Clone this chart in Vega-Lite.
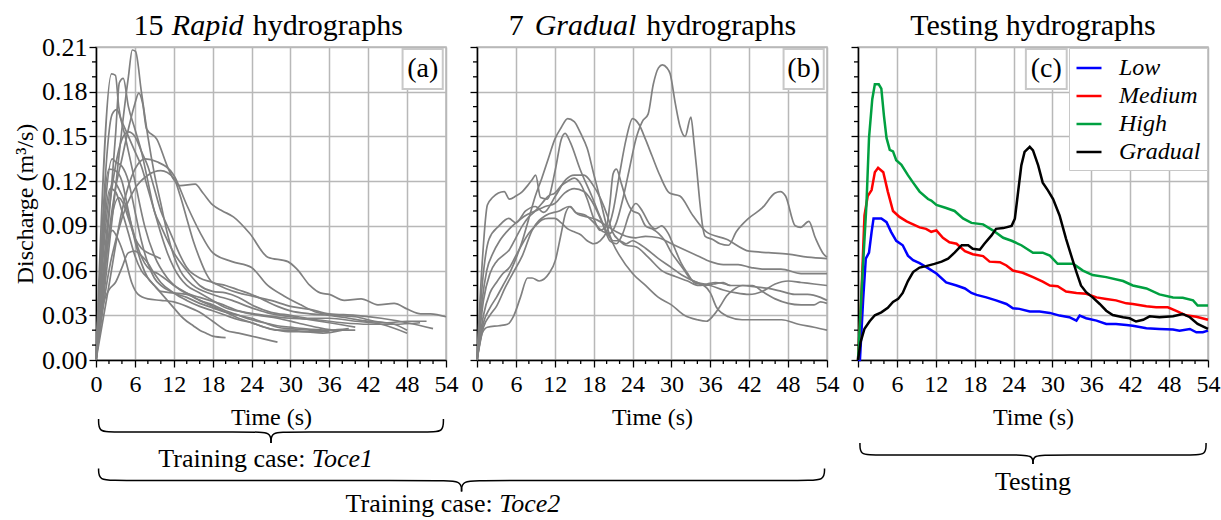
{
  "$schema": "https://vega.github.io/schema/vega-lite/v6.json",
  "padding": {"left": 12, "top": 10, "right": 0, "bottom": 0},
  "bounds": "flush",
  "spacing": 31,
  "config": {
    "font": "Liberation Serif",
    "view": {"stroke": "#b8b8b8", "strokeWidth": 1.5},
    "axis": {
      "domainColor": "#000000", "domainWidth": 1.5,
      "tickColor": "#000000", "tickWidth": 1.3, "tickSize": 7, "tickCount": 20,
      "gridColor": "#b8b8b8", "gridWidth": 1.5,
      "labelFont": "Liberation Serif", "labelFontSize": 24, "labelColor": "#000000",
      "labelFlush": false, "labelOverlap": false,
      "titleFont": "Liberation Serif", "titleFontSize": 24, "titleFontWeight": "normal", "titleColor": "#000000"
    },
    "axisY": {"labelFontSize": 26, "labelPadding": 2, "titlePadding": 4},
    "axisX": {"labelPadding": 5, "titlePadding": 9}
  },
  "resolve": {"scale": {"color": "independent"}, "legend": {"color": "independent"}},
  "datasets": {
    "xminor": [{"t":2},{"t":4},{"t":8},{"t":10},{"t":14},{"t":16},{"t":20},{"t":22},{"t":26},{"t":28},{"t":32},{"t":34},{"t":38},{"t":40},{"t":44},{"t":46},{"t":50},{"t":52}],
    "yminor": [{"q":0.01},{"q":0.02},{"q":0.04},{"q":0.05},{"q":0.07},{"q":0.08},{"q":0.1},{"q":0.11},{"q":0.13},{"q":0.14},{"q":0.16},{"q":0.17},{"q":0.19},{"q":0.2}],
    "rapid": [
      {"s":"a1","t":0,"q":0},{"s":"a1","t":1,"q":0.04},{"s":"a1","t":2,"q":0.085},{"s":"a1","t":3,"q":0.115},{"s":"a1","t":4,"q":0.135},{"s":"a1","t":5,"q":0.155},{"s":"a1","t":6,"q":0.172},{"s":"a1","t":6.6,"q":0.179},{"s":"a1","t":7.2,"q":0.172},{"s":"a1","t":7.8,"q":0.155},{"s":"a1","t":9.4,"q":0.148},{"s":"a1","t":11,"q":0.13},{"s":"a1","t":12,"q":0.121},{"s":"a1","t":13,"q":0.117},{"s":"a1","t":15.3,"q":0.118},{"s":"a1","t":16.5,"q":0.112},{"s":"a1","t":18,"q":0.104},{"s":"a1","t":19.5,"q":0.1},{"s":"a1","t":21.2,"q":0.096},{"s":"a1","t":23.7,"q":0.085},{"s":"a1","t":26.5,"q":0.069},{"s":"a1","t":29.6,"q":0.066},{"s":"a1","t":31,"q":0.061},{"s":"a1","t":33,"q":0.05},{"s":"a1","t":34.6,"q":0.045},{"s":"a1","t":36,"q":0.044},{"s":"a1","t":38.3,"q":0.04},{"s":"a1","t":40.9,"q":0.041},{"s":"a1","t":43.5,"q":0.037},{"s":"a1","t":46,"q":0.038},{"s":"a1","t":48.1,"q":0.034},{"s":"a1","t":50.1,"q":0.031},{"s":"a1","t":51.6,"q":0.031},{"s":"a1","t":54,"q":0.029},
      {"s":"a2","t":0,"q":0},{"s":"a2","t":1,"q":0.035},{"s":"a2","t":2,"q":0.075},{"s":"a2","t":3,"q":0.115},{"s":"a2","t":4,"q":0.155},{"s":"a2","t":5,"q":0.19},{"s":"a2","t":5.6,"q":0.208},{"s":"a2","t":6.1,"q":0.207},{"s":"a2","t":7,"q":0.18},{"s":"a2","t":8,"q":0.15},{"s":"a2","t":9,"q":0.125},{"s":"a2","t":10,"q":0.105},{"s":"a2","t":11,"q":0.085},{"s":"a2","t":12,"q":0.07},{"s":"a2","t":13,"q":0.06},{"s":"a2","t":15,"q":0.05},{"s":"a2","t":18,"q":0.044},{"s":"a2","t":21,"q":0.04},{"s":"a2","t":24,"q":0.035},{"s":"a2","t":27,"q":0.031},{"s":"a2","t":30,"q":0.029},{"s":"a2","t":33,"q":0.027},{"s":"a2","t":36,"q":0.025},{"s":"a2","t":40,"q":0.022},
      {"s":"a3","t":0,"q":0},{"s":"a3","t":2.4,"q":0.192},{"s":"a3","t":3,"q":0.191},{"s":"a3","t":3.5,"q":0.17},{"s":"a3","t":4.5,"q":0.15},{"s":"a3","t":6,"q":0.12},{"s":"a3","t":7.5,"q":0.09},{"s":"a3","t":9,"q":0.07},{"s":"a3","t":11,"q":0.055},{"s":"a3","t":13,"q":0.047},{"s":"a3","t":16,"q":0.042},{"s":"a3","t":19,"q":0.038},{"s":"a3","t":22,"q":0.033},{"s":"a3","t":25,"q":0.03},{"s":"a3","t":28,"q":0.028},{"s":"a3","t":31,"q":0.025},{"s":"a3","t":34,"q":0.022},{"s":"a3","t":37,"q":0.02},{"s":"a3","t":40,"q":0.02},
      {"s":"a4","t":0,"q":0},{"s":"a4","t":3,"q":0.15},{"s":"a4","t":3.6,"q":0.186},{"s":"a4","t":4.2,"q":0.189},{"s":"a4","t":5,"q":0.17},{"s":"a4","t":6,"q":0.155},{"s":"a4","t":7,"q":0.14},{"s":"a4","t":8,"q":0.12},{"s":"a4","t":9,"q":0.1},{"s":"a4","t":10,"q":0.09},{"s":"a4","t":12,"q":0.072},{"s":"a4","t":14,"q":0.06},{"s":"a4","t":16,"q":0.05},{"s":"a4","t":18,"q":0.046},{"s":"a4","t":20,"q":0.045},{"s":"a4","t":22,"q":0.042},{"s":"a4","t":24,"q":0.037},{"s":"a4","t":27,"q":0.032},{"s":"a4","t":30,"q":0.03},{"s":"a4","t":33,"q":0.028},{"s":"a4","t":36,"q":0.028},{"s":"a4","t":40,"q":0.026},{"s":"a4","t":44,"q":0.024},{"s":"a4","t":48,"q":0.018},
      {"s":"a5","t":0,"q":0},{"s":"a5","t":2.5,"q":0.165},{"s":"a5","t":3.2,"q":0.168},{"s":"a5","t":4,"q":0.16},{"s":"a5","t":5,"q":0.15},{"s":"a5","t":6,"q":0.14},{"s":"a5","t":7,"q":0.13},{"s":"a5","t":8,"q":0.115},{"s":"a5","t":9,"q":0.1},{"s":"a5","t":10,"q":0.085},{"s":"a5","t":11,"q":0.072},{"s":"a5","t":12,"q":0.062},{"s":"a5","t":14,"q":0.05},{"s":"a5","t":16,"q":0.045},{"s":"a5","t":18,"q":0.04},{"s":"a5","t":20,"q":0.035},{"s":"a5","t":23,"q":0.032},{"s":"a5","t":26,"q":0.03},{"s":"a5","t":30,"q":0.028},{"s":"a5","t":34,"q":0.027},{"s":"a5","t":38,"q":0.025},{"s":"a5","t":42,"q":0.024},{"s":"a5","t":46,"q":0.024},{"s":"a5","t":50,"q":0.025},
      {"s":"a6","t":0,"q":0},{"s":"a6","t":2,"q":0.1},{"s":"a6","t":3,"q":0.13},{"s":"a6","t":4,"q":0.148},{"s":"a6","t":5,"q":0.153},{"s":"a6","t":6,"q":0.15},{"s":"a6","t":7,"q":0.14},{"s":"a6","t":8,"q":0.13},{"s":"a6","t":9,"q":0.115},{"s":"a6","t":10,"q":0.1},{"s":"a6","t":11,"q":0.09},{"s":"a6","t":12,"q":0.08},{"s":"a6","t":13,"q":0.07},{"s":"a6","t":14,"q":0.062},{"s":"a6","t":16,"q":0.055},{"s":"a6","t":18,"q":0.052},{"s":"a6","t":20,"q":0.048},{"s":"a6","t":22,"q":0.045},{"s":"a6","t":24,"q":0.043},{"s":"a6","t":27,"q":0.04},{"s":"a6","t":30,"q":0.036},{"s":"a6","t":33,"q":0.034},{"s":"a6","t":36,"q":0.031},{"s":"a6","t":40,"q":0.03},{"s":"a6","t":44,"q":0.028},{"s":"a6","t":48,"q":0.025},{"s":"a6","t":52,"q":0.021},
      {"s":"a7","t":0,"q":0},{"s":"a7","t":2,"q":0.05},{"s":"a7","t":4,"q":0.1},{"s":"a7","t":6,"q":0.128},{"s":"a7","t":7.6,"q":0.135},{"s":"a7","t":9.4,"q":0.133},{"s":"a7","t":12,"q":0.124},{"s":"a7","t":14,"q":0.104},{"s":"a7","t":16,"q":0.086},{"s":"a7","t":18,"q":0.072},{"s":"a7","t":21,"q":0.066},{"s":"a7","t":24,"q":0.062},{"s":"a7","t":26.5,"q":0.05},{"s":"a7","t":29,"q":0.043},{"s":"a7","t":31.6,"q":0.037},{"s":"a7","t":34,"q":0.032},{"s":"a7","t":37,"q":0.03},{"s":"a7","t":40,"q":0.029},{"s":"a7","t":43,"q":0.026},{"s":"a7","t":46,"q":0.024},{"s":"a7","t":48,"q":0.02},
      {"s":"a8","t":0,"q":0},{"s":"a8","t":2,"q":0.06},{"s":"a8","t":4,"q":0.095},{"s":"a8","t":6,"q":0.115},{"s":"a8","t":8,"q":0.124},{"s":"a8","t":10,"q":0.127},{"s":"a8","t":12,"q":0.122},{"s":"a8","t":13,"q":0.11},{"s":"a8","t":14,"q":0.095},{"s":"a8","t":15,"q":0.08},{"s":"a8","t":16,"q":0.068},{"s":"a8","t":17,"q":0.058},{"s":"a8","t":18,"q":0.052},{"s":"a8","t":20,"q":0.05},{"s":"a8","t":22,"q":0.047},{"s":"a8","t":24,"q":0.044},{"s":"a8","t":26,"q":0.04},{"s":"a8","t":28,"q":0.036},{"s":"a8","t":30,"q":0.033},{"s":"a8","t":33,"q":0.031},{"s":"a8","t":36,"q":0.03},{"s":"a8","t":39,"q":0.028},{"s":"a8","t":42,"q":0.026},{"s":"a8","t":45,"q":0.025},{"s":"a8","t":48,"q":0.026},{"s":"a8","t":51,"q":0.026},
      {"s":"a9","t":0,"q":0},{"s":"a9","t":2.5,"q":0.135},{"s":"a9","t":3,"q":0.133},{"s":"a9","t":4,"q":0.13},{"s":"a9","t":5,"q":0.12},{"s":"a9","t":6,"q":0.1},{"s":"a9","t":7,"q":0.08},{"s":"a9","t":8,"q":0.065},{"s":"a9","t":9,"q":0.055},{"s":"a9","t":10,"q":0.05},{"s":"a9","t":12,"q":0.045},{"s":"a9","t":14,"q":0.042},{"s":"a9","t":16,"q":0.038},{"s":"a9","t":18,"q":0.035},{"s":"a9","t":20,"q":0.032},{"s":"a9","t":22,"q":0.03},{"s":"a9","t":24,"q":0.028},{"s":"a9","t":26,"q":0.025},{"s":"a9","t":28,"q":0.022},{"s":"a9","t":30,"q":0.021},{"s":"a9","t":33,"q":0.02},{"s":"a9","t":36,"q":0.019},
      {"s":"a10","t":0,"q":0},{"s":"a10","t":2,"q":0.128},{"s":"a10","t":3,"q":0.127},{"s":"a10","t":4,"q":0.12},{"s":"a10","t":5,"q":0.1},{"s":"a10","t":6,"q":0.08},{"s":"a10","t":7,"q":0.065},{"s":"a10","t":8,"q":0.055},{"s":"a10","t":9,"q":0.05},{"s":"a10","t":10,"q":0.046},{"s":"a10","t":12,"q":0.045},{"s":"a10","t":14,"q":0.044},{"s":"a10","t":16,"q":0.04},{"s":"a10","t":18,"q":0.036},{"s":"a10","t":20,"q":0.032},{"s":"a10","t":22,"q":0.028},{"s":"a10","t":24,"q":0.025},{"s":"a10","t":26,"q":0.022},{"s":"a10","t":28,"q":0.02},{"s":"a10","t":30,"q":0.02},{"s":"a10","t":32,"q":0.019},{"s":"a10","t":35,"q":0.019},
      {"s":"a11","t":0,"q":0},{"s":"a11","t":2.7,"q":0.12},{"s":"a11","t":3.5,"q":0.115},{"s":"a11","t":4.5,"q":0.105},{"s":"a11","t":5.5,"q":0.09},{"s":"a11","t":6.5,"q":0.075},{"s":"a11","t":7.5,"q":0.065},{"s":"a11","t":8.5,"q":0.06},{"s":"a11","t":9.5,"q":0.058},{"s":"a11","t":10.5,"q":0.055},{"s":"a11","t":12,"q":0.05},{"s":"a11","t":14,"q":0.045},{"s":"a11","t":16,"q":0.04},{"s":"a11","t":18,"q":0.037},{"s":"a11","t":20,"q":0.033},{"s":"a11","t":22,"q":0.03},{"s":"a11","t":24,"q":0.027},{"s":"a11","t":26,"q":0.025},{"s":"a11","t":28,"q":0.023},{"s":"a11","t":30,"q":0.022},{"s":"a11","t":32,"q":0.021},{"s":"a11","t":36,"q":0.02},{"s":"a11","t":39,"q":0.021},
      {"s":"a12","t":0,"q":0},{"s":"a12","t":2.2,"q":0.115},{"s":"a12","t":3,"q":0.113},{"s":"a12","t":4,"q":0.1},{"s":"a12","t":5,"q":0.085},{"s":"a12","t":6,"q":0.07},{"s":"a12","t":7,"q":0.06},{"s":"a12","t":8,"q":0.055},{"s":"a12","t":9,"q":0.05},{"s":"a12","t":10,"q":0.045},{"s":"a12","t":11,"q":0.04},{"s":"a12","t":12,"q":0.035},{"s":"a12","t":13,"q":0.03},{"s":"a12","t":14,"q":0.026},{"s":"a12","t":15,"q":0.023},{"s":"a12","t":16,"q":0.02},{"s":"a12","t":17,"q":0.018},{"s":"a12","t":18,"q":0.016},{"s":"a12","t":20,"q":0.015},
      {"s":"a13","t":0,"q":0},{"s":"a13","t":3.5,"q":0.109},{"s":"a13","t":4.2,"q":0.105},{"s":"a13","t":5,"q":0.095},{"s":"a13","t":6,"q":0.082},{"s":"a13","t":7,"q":0.075},{"s":"a13","t":8,"q":0.072},{"s":"a13","t":9,"q":0.07},{"s":"a13","t":10,"q":0.068},
      {"s":"a14","t":0,"q":0},{"s":"a14","t":2.5,"q":0.087},{"s":"a14","t":3.5,"q":0.08},{"s":"a14","t":4.5,"q":0.068},{"s":"a14","t":5.5,"q":0.052},{"s":"a14","t":6.5,"q":0.044},{"s":"a14","t":8,"q":0.041},{"s":"a14","t":10,"q":0.04},{"s":"a14","t":12,"q":0.039},{"s":"a14","t":14,"q":0.036},{"s":"a14","t":16,"q":0.032},{"s":"a14","t":18,"q":0.026},{"s":"a14","t":20,"q":0.02},{"s":"a14","t":22,"q":0.018},{"s":"a14","t":24,"q":0.016},{"s":"a14","t":26,"q":0.014},{"s":"a14","t":28,"q":0.012},
      {"s":"a15","t":0,"q":0},{"s":"a15","t":1,"q":0.035},{"s":"a15","t":2,"q":0.047},{"s":"a15","t":3,"q":0.052},{"s":"a15","t":4,"q":0.062},{"s":"a15","t":5,"q":0.072},{"s":"a15","t":6,"q":0.073},{"s":"a15","t":7,"q":0.07},{"s":"a15","t":8,"q":0.065},{"s":"a15","t":9,"q":0.058},{"s":"a15","t":10,"q":0.052},{"s":"a15","t":12,"q":0.045},{"s":"a15","t":14,"q":0.04},{"s":"a15","t":16,"q":0.036},{"s":"a15","t":18,"q":0.033},{"s":"a15","t":20,"q":0.03},{"s":"a15","t":22,"q":0.027},{"s":"a15","t":24,"q":0.025},{"s":"a15","t":26,"q":0.022},{"s":"a15","t":28,"q":0.02},{"s":"a15","t":30,"q":0.019},{"s":"a15","t":32,"q":0.019},{"s":"a15","t":35,"q":0.018},{"s":"a15","t":38,"q":0.02}
    ],
    "gradual": [
      {"s":"b1","t":0,"q":0},{"s":"b1","t":1,"q":0.025},{"s":"b1","t":2,"q":0.035},{"s":"b1","t":3,"q":0.042},{"s":"b1","t":4,"q":0.05},{"s":"b1","t":5,"q":0.058},{"s":"b1","t":6,"q":0.068},{"s":"b1","t":7,"q":0.08},{"s":"b1","t":8,"q":0.095},{"s":"b1","t":9,"q":0.11},{"s":"b1","t":10,"q":0.122},{"s":"b1","t":11,"q":0.135},{"s":"b1","t":12,"q":0.148},{"s":"b1","t":13,"q":0.156},{"s":"b1","t":14,"q":0.162},{"s":"b1","t":15,"q":0.16},{"s":"b1","t":16,"q":0.152},{"s":"b1","t":17,"q":0.142},{"s":"b1","t":18,"q":0.125},{"s":"b1","t":19,"q":0.108},{"s":"b1","t":20,"q":0.09},{"s":"b1","t":21,"q":0.078},{"s":"b1","t":22,"q":0.07},{"s":"b1","t":24,"q":0.058},{"s":"b1","t":26,"q":0.05},{"s":"b1","t":28,"q":0.042},{"s":"b1","t":30,"q":0.037},{"s":"b1","t":32,"q":0.03},{"s":"b1","t":34,"q":0.027},{"s":"b1","t":35.4,"q":0.026},{"s":"b1","t":36.5,"q":0.03},{"s":"b1","t":37.5,"q":0.036},{"s":"b1","t":38.5,"q":0.043},{"s":"b1","t":39.5,"q":0.047},{"s":"b1","t":41,"q":0.05},{"s":"b1","t":42.5,"q":0.05},{"s":"b1","t":44,"q":0.046},{"s":"b1","t":46,"q":0.041},{"s":"b1","t":48,"q":0.038},{"s":"b1","t":50,"q":0.037},{"s":"b1","t":52,"q":0.037},{"s":"b1","t":53,"q":0.039},{"s":"b1","t":54,"q":0.038},
      {"s":"b2","t":0,"q":0},{"s":"b2","t":0.8,"q":0.018},{"s":"b2","t":1.6,"q":0.022},{"s":"b2","t":3.4,"q":0.023},{"s":"b2","t":4.7,"q":0.024},{"s":"b2","t":5.7,"q":0.03},{"s":"b2","t":6.7,"q":0.042},{"s":"b2","t":7.8,"q":0.055},{"s":"b2","t":8.5,"q":0.055},{"s":"b2","t":9.6,"q":0.053},{"s":"b2","t":11.1,"q":0.058},{"s":"b2","t":12.1,"q":0.067},{"s":"b2","t":12.9,"q":0.083},{"s":"b2","t":13.7,"q":0.099},{"s":"b2","t":14.4,"q":0.103},{"s":"b2","t":15.2,"q":0.099},{"s":"b2","t":16.8,"q":0.097},{"s":"b2","t":18.3,"q":0.091},{"s":"b2","t":19.5,"q":0.086},{"s":"b2","t":20.5,"q":0.085},{"s":"b2","t":21.5,"q":0.092},{"s":"b2","t":22.5,"q":0.108},{"s":"b2","t":23.5,"q":0.128},{"s":"b2","t":24.5,"q":0.148},{"s":"b2","t":25.5,"q":0.16},{"s":"b2","t":26.4,"q":0.165},{"s":"b2","t":27.2,"q":0.185},{"s":"b2","t":28,"q":0.196},{"s":"b2","t":28.6,"q":0.198},{"s":"b2","t":29.3,"q":0.196},{"s":"b2","t":29.8,"q":0.192},{"s":"b2","t":30.6,"q":0.172},{"s":"b2","t":31.3,"q":0.157},{"s":"b2","t":32.1,"q":0.15},{"s":"b2","t":33,"q":0.163},{"s":"b2","t":33.5,"q":0.145},{"s":"b2","t":33.9,"q":0.128},{"s":"b2","t":34.4,"q":0.105},{"s":"b2","t":34.8,"q":0.09},{"s":"b2","t":35.2,"q":0.083},{"s":"b2","t":36.3,"q":0.081},{"s":"b2","t":37.5,"q":0.078},{"s":"b2","t":38.8,"q":0.077},{"s":"b2","t":40,"q":0.086},{"s":"b2","t":41.9,"q":0.095},{"s":"b2","t":44,"q":0.102},{"s":"b2","t":46,"q":0.112},{"s":"b2","t":46.8,"q":0.113},{"s":"b2","t":47.6,"q":0.11},{"s":"b2","t":49.1,"q":0.09},{"s":"b2","t":49.9,"q":0.089},{"s":"b2","t":51.2,"q":0.093},{"s":"b2","t":52.2,"q":0.082},{"s":"b2","t":53.5,"q":0.071},{"s":"b2","t":54,"q":0.069},
      {"s":"b3","t":0,"q":0},{"s":"b3","t":1,"q":0.03},{"s":"b3","t":2,"q":0.045},{"s":"b3","t":3,"q":0.052},{"s":"b3","t":4,"q":0.058},{"s":"b3","t":5,"q":0.062},{"s":"b3","t":6,"q":0.07},{"s":"b3","t":7,"q":0.078},{"s":"b3","t":8,"q":0.085},{"s":"b3","t":9,"q":0.09},{"s":"b3","t":10,"q":0.094},{"s":"b3","t":11,"q":0.095},{"s":"b3","t":12,"q":0.095},{"s":"b3","t":13,"q":0.092},{"s":"b3","t":14,"q":0.088},{"s":"b3","t":15,"q":0.086},{"s":"b3","t":16,"q":0.084},{"s":"b3","t":17,"q":0.08},{"s":"b3","t":18,"q":0.078},{"s":"b3","t":19,"q":0.08},{"s":"b3","t":20,"q":0.086},{"s":"b3","t":21,"q":0.1},{"s":"b3","t":22,"q":0.125},{"s":"b3","t":23,"q":0.148},{"s":"b3","t":24,"q":0.162},{"s":"b3","t":25,"q":0.158},{"s":"b3","t":26,"q":0.148},{"s":"b3","t":27,"q":0.137},{"s":"b3","t":28.2,"q":0.124},{"s":"b3","t":29.7,"q":0.112},{"s":"b3","t":31.3,"q":0.11},{"s":"b3","t":33.3,"q":0.097},{"s":"b3","t":35.4,"q":0.086},{"s":"b3","t":38.5,"q":0.081},{"s":"b3","t":42,"q":0.073},{"s":"b3","t":45,"q":0.072},{"s":"b3","t":48,"q":0.071},{"s":"b3","t":51,"q":0.069},{"s":"b3","t":54,"q":0.068},
      {"s":"b4","t":0,"q":0},{"s":"b4","t":0.8,"q":0.065},{"s":"b4","t":1.6,"q":0.104},{"s":"b4","t":2.4,"q":0.109},{"s":"b4","t":3.3,"q":0.112},{"s":"b4","t":4.2,"q":0.113},{"s":"b4","t":5,"q":0.108},{"s":"b4","t":6,"q":0.11},{"s":"b4","t":7,"q":0.113},{"s":"b4","t":7.8,"q":0.117},{"s":"b4","t":8.5,"q":0.121},{"s":"b4","t":9.05,"q":0.124},{"s":"b4","t":9.8,"q":0.109},{"s":"b4","t":10.85,"q":0.108},{"s":"b4","t":12.1,"q":0.128},{"s":"b4","t":13,"q":0.148},{"s":"b4","t":13.6,"q":0.152},{"s":"b4","t":14.4,"q":0.146},{"s":"b4","t":15.9,"q":0.128},{"s":"b4","t":17.7,"q":0.11},{"s":"b4","t":19,"q":0.096},{"s":"b4","t":20,"q":0.086},{"s":"b4","t":21,"q":0.08},{"s":"b4","t":22,"q":0.08},{"s":"b4","t":23,"q":0.078},{"s":"b4","t":24,"q":0.08},{"s":"b4","t":25,"q":0.078},{"s":"b4","t":26,"q":0.075},{"s":"b4","t":28,"q":0.068},{"s":"b4","t":30,"q":0.062},{"s":"b4","t":31.6,"q":0.057},{"s":"b4","t":34,"q":0.052},{"s":"b4","t":36,"q":0.05},{"s":"b4","t":38,"q":0.047},{"s":"b4","t":40,"q":0.045},{"s":"b4","t":42,"q":0.044},{"s":"b4","t":44,"q":0.046},{"s":"b4","t":46,"q":0.051},{"s":"b4","t":48,"q":0.053},{"s":"b4","t":50,"q":0.052},{"s":"b4","t":52,"q":0.051},{"s":"b4","t":54,"q":0.05},
      {"s":"b5","t":0,"q":0},{"s":"b5","t":0.8,"q":0.05},{"s":"b5","t":1.85,"q":0.081},{"s":"b5","t":3.4,"q":0.09},{"s":"b5","t":4.9,"q":0.095},{"s":"b5","t":6,"q":0.092},{"s":"b5","t":7.5,"q":0.1},{"s":"b5","t":9,"q":0.103},{"s":"b5","t":10.3,"q":0.099},{"s":"b5","t":12.1,"q":0.11},{"s":"b5","t":13.7,"q":0.121},{"s":"b5","t":15,"q":0.124},{"s":"b5","t":16.5,"q":0.124},{"s":"b5","t":17.8,"q":0.118},{"s":"b5","t":19.1,"q":0.108},{"s":"b5","t":20.1,"q":0.097},{"s":"b5","t":20.9,"q":0.086},{"s":"b5","t":22,"q":0.08},{"s":"b5","t":23,"q":0.077},{"s":"b5","t":24.5,"q":0.076},{"s":"b5","t":26.4,"q":0.069},{"s":"b5","t":28.5,"q":0.06},{"s":"b5","t":30.6,"q":0.056},{"s":"b5","t":32.5,"q":0.053},{"s":"b5","t":34.2,"q":0.05},{"s":"b5","t":35.5,"q":0.051},{"s":"b5","t":36.8,"q":0.052},{"s":"b5","t":39.1,"q":0.05},
      {"s":"b6","t":0,"q":0},{"s":"b6","t":1,"q":0.022},{"s":"b6","t":2,"q":0.03},{"s":"b6","t":3,"q":0.036},{"s":"b6","t":4.4,"q":0.049},{"s":"b6","t":5.5,"q":0.058},{"s":"b6","t":7,"q":0.07},{"s":"b6","t":8.5,"q":0.087},{"s":"b6","t":10.6,"q":0.097},{"s":"b6","t":12.7,"q":0.1},{"s":"b6","t":14.2,"q":0.103},{"s":"b6","t":15.5,"q":0.098},{"s":"b6","t":17,"q":0.096},{"s":"b6","t":18.5,"q":0.094},{"s":"b6","t":20,"q":0.09},{"s":"b6","t":21.5,"q":0.086},{"s":"b6","t":23,"q":0.083},{"s":"b6","t":24.5,"q":0.082},{"s":"b6","t":26,"q":0.083},{"s":"b6","t":28,"q":0.082},{"s":"b6","t":30,"q":0.078},{"s":"b6","t":32,"q":0.074},{"s":"b6","t":34,"q":0.07},{"s":"b6","t":36,"q":0.066},{"s":"b6","t":38,"q":0.064},{"s":"b6","t":40.3,"q":0.064},{"s":"b6","t":42.3,"q":0.062},{"s":"b6","t":44,"q":0.061},{"s":"b6","t":46.9,"q":0.061},{"s":"b6","t":50,"q":0.058},{"s":"b6","t":52,"q":0.058},{"s":"b6","t":54,"q":0.058},
      {"s":"b7","t":0,"q":0},{"s":"b7","t":0.8,"q":0.04},{"s":"b7","t":1.5,"q":0.06},{"s":"b7","t":2.5,"q":0.072},{"s":"b7","t":3.5,"q":0.08},{"s":"b7","t":5,"q":0.088},{"s":"b7","t":6,"q":0.092},{"s":"b7","t":7.5,"q":0.097},{"s":"b7","t":9,"q":0.1},{"s":"b7","t":10.5,"q":0.103},{"s":"b7","t":12,"q":0.105},{"s":"b7","t":13.5,"q":0.112},{"s":"b7","t":15,"q":0.115},{"s":"b7","t":16.5,"q":0.113},{"s":"b7","t":17.5,"q":0.108},{"s":"b7","t":18.5,"q":0.1},{"s":"b7","t":19.5,"q":0.09},{"s":"b7","t":20.5,"q":0.08},{"s":"b7","t":21.5,"q":0.078},{"s":"b7","t":22.5,"q":0.085},{"s":"b7","t":23.5,"q":0.098},{"s":"b7","t":24.5,"q":0.105},{"s":"b7","t":25.5,"q":0.1},{"s":"b7","t":26.5,"q":0.092},{"s":"b7","t":27.5,"q":0.088},{"s":"b7","t":28.5,"q":0.09},{"s":"b7","t":29.5,"q":0.085},{"s":"b7","t":30.5,"q":0.075},{"s":"b7","t":31.5,"q":0.065},{"s":"b7","t":32.5,"q":0.058},{"s":"b7","t":33.5,"q":0.052},{"s":"b7","t":35,"q":0.05},{"s":"b7","t":36,"q":0.045},{"s":"b7","t":37,"q":0.035},{"s":"b7","t":38.8,"q":0.029},{"s":"b7","t":40.9,"q":0.027},{"s":"b7","t":44,"q":0.027},{"s":"b7","t":47,"q":0.027},{"s":"b7","t":49.6,"q":0.024},{"s":"b7","t":52,"q":0.022},{"s":"b7","t":54,"q":0.02},
      {"s":"b8","t":0,"q":0},{"s":"b8","t":1,"q":0.04},{"s":"b8","t":2,"q":0.058},{"s":"b8","t":3,"q":0.066},{"s":"b8","t":4,"q":0.07},{"s":"b8","t":5,"q":0.074},{"s":"b8","t":6,"q":0.082},{"s":"b8","t":7,"q":0.09},{"s":"b8","t":8,"q":0.096},{"s":"b8","t":9,"q":0.1},{"s":"b8","t":10,"q":0.105},{"s":"b8","t":11,"q":0.11},{"s":"b8","t":12,"q":0.112},{"s":"b8","t":13,"q":0.117},{"s":"b8","t":14,"q":0.12},{"s":"b8","t":15,"q":0.122},{"s":"b8","t":16,"q":0.118},{"s":"b8","t":17,"q":0.108},{"s":"b8","t":18,"q":0.095},{"s":"b8","t":19,"q":0.087},{"s":"b8","t":20,"q":0.09},{"s":"b8","t":20.5,"q":0.105},{"s":"b8","t":21,"q":0.125},{"s":"b8","t":21.5,"q":0.128},{"s":"b8","t":22.3,"q":0.118},{"s":"b8","t":23,"q":0.108},{"s":"b8","t":24,"q":0.1},{"s":"b8","t":25,"q":0.098},{"s":"b8","t":26,"q":0.09},{"s":"b8","t":27,"q":0.088},{"s":"b8","t":28,"q":0.085},{"s":"b8","t":29,"q":0.08},{"s":"b8","t":30,"q":0.072},{"s":"b8","t":31,"q":0.066},{"s":"b8","t":32,"q":0.06},{"s":"b8","t":33,"q":0.054},{"s":"b8","t":34,"q":0.052},{"s":"b8","t":35,"q":0.05},{"s":"b8","t":36.5,"q":0.051},{"s":"b8","t":38,"q":0.052},{"s":"b8","t":39,"q":0.05},{"s":"b8","t":41,"q":0.05},{"s":"b8","t":43,"q":0.049},{"s":"b8","t":45,"q":0.048},{"s":"b8","t":47,"q":0.046},{"s":"b8","t":49,"q":0.044},{"s":"b8","t":51,"q":0.044},{"s":"b8","t":53,"q":0.042},{"s":"b8","t":54,"q":0.04}
    ],
    "testing": [
      {"s":"Low","t":0,"q":0},{"s":"Low","t":0.3,"q":0},{"s":"Low","t":0.8,"q":0.041},{"s":"Low","t":1.2,"q":0.068},{"s":"Low","t":1.7,"q":0.072},{"s":"Low","t":2.1,"q":0.086},{"s":"Low","t":2.4,"q":0.095},{"s":"Low","t":3.6,"q":0.095},{"s":"Low","t":4.4,"q":0.0925},{"s":"Low","t":5.1,"q":0.086},{"s":"Low","t":5.9,"q":0.08},{"s":"Low","t":6.9,"q":0.077},{"s":"Low","t":7.7,"q":0.07},{"s":"Low","t":8.5,"q":0.067},{"s":"Low","t":9.5,"q":0.065},{"s":"Low","t":10.8,"q":0.0616},{"s":"Low","t":12.1,"q":0.058},{"s":"Low","t":13.6,"q":0.052},{"s":"Low","t":15.2,"q":0.05},{"s":"Low","t":16.5,"q":0.048},{"s":"Low","t":17.5,"q":0.045},{"s":"Low","t":18.3,"q":0.0437},{"s":"Low","t":19.8,"q":0.042},{"s":"Low","t":21.3,"q":0.04},{"s":"Low","t":22.9,"q":0.0376},{"s":"Low","t":23.9,"q":0.0347},{"s":"Low","t":24.9,"q":0.0343},{"s":"Low","t":26.5,"q":0.0325},{"s":"Low","t":28,"q":0.0325},{"s":"Low","t":29.6,"q":0.0316},{"s":"Low","t":31.1,"q":0.0298},{"s":"Low","t":32.6,"q":0.0287},{"s":"Low","t":33.7,"q":0.0264},{"s":"Low","t":34.2,"q":0.0298},{"s":"Low","t":35.2,"q":0.028},{"s":"Low","t":36.8,"q":0.0264},{"s":"Low","t":38.3,"q":0.0242},{"s":"Low","t":39.8,"q":0.0242},{"s":"Low","t":41.4,"q":0.0235},{"s":"Low","t":42.4,"q":0.023},{"s":"Low","t":44.5,"q":0.0213},{"s":"Low","t":46.5,"q":0.0208},{"s":"Low","t":48.6,"q":0.0204},{"s":"Low","t":49.6,"q":0.0197},{"s":"Low","t":51.2,"q":0.0208},{"s":"Low","t":52.2,"q":0.0186},{"s":"Low","t":53.2,"q":0.0186},{"s":"Low","t":54,"q":0.0197},
      {"s":"Medium","t":0,"q":0},{"s":"Medium","t":0.5,"q":0.041},{"s":"Medium","t":1,"q":0.097},{"s":"Medium","t":1.5,"q":0.11},{"s":"Medium","t":2.1,"q":0.114},{"s":"Medium","t":2.6,"q":0.126},{"s":"Medium","t":3.1,"q":0.129},{"s":"Medium","t":3.9,"q":0.126},{"s":"Medium","t":4.6,"q":0.113},{"s":"Medium","t":5.4,"q":0.1},{"s":"Medium","t":6.4,"q":0.096},{"s":"Medium","t":7.5,"q":0.093},{"s":"Medium","t":8.5,"q":0.091},{"s":"Medium","t":9.5,"q":0.089},{"s":"Medium","t":10.5,"q":0.088},{"s":"Medium","t":11.3,"q":0.086},{"s":"Medium","t":12.1,"q":0.087},{"s":"Medium","t":13.1,"q":0.082},{"s":"Medium","t":14.1,"q":0.079},{"s":"Medium","t":15.2,"q":0.078},{"s":"Medium","t":16.5,"q":0.073},{"s":"Medium","t":17.7,"q":0.071},{"s":"Medium","t":19.3,"q":0.0697},{"s":"Medium","t":20.3,"q":0.066},{"s":"Medium","t":21.9,"q":0.0656},{"s":"Medium","t":22.9,"q":0.0634},{"s":"Medium","t":23.9,"q":0.06},{"s":"Medium","t":25.4,"q":0.0585},{"s":"Medium","t":27,"q":0.0556},{"s":"Medium","t":28.5,"q":0.0526},{"s":"Medium","t":29.6,"q":0.05},{"s":"Medium","t":30.8,"q":0.0495},{"s":"Medium","t":32.1,"q":0.046},{"s":"Medium","t":33.7,"q":0.045},{"s":"Medium","t":35.2,"q":0.0444},{"s":"Medium","t":36.8,"q":0.042},{"s":"Medium","t":38.3,"q":0.041},{"s":"Medium","t":39.8,"q":0.04},{"s":"Medium","t":41.4,"q":0.038},{"s":"Medium","t":42.4,"q":0.0376},{"s":"Medium","t":44.5,"q":0.036},{"s":"Medium","t":46,"q":0.0354},{"s":"Medium","t":47.8,"q":0.0354},{"s":"Medium","t":49.1,"q":0.033},{"s":"Medium","t":50.6,"q":0.03},{"s":"Medium","t":52.2,"q":0.029},{"s":"Medium","t":54,"q":0.027},
      {"s":"High","t":0,"q":0},{"s":"High","t":0.6,"q":0.05},{"s":"High","t":1.3,"q":0.104},{"s":"High","t":1.7,"q":0.149},{"s":"High","t":2.2,"q":0.175},{"s":"High","t":2.6,"q":0.185},{"s":"High","t":3.2,"q":0.185},{"s":"High","t":3.6,"q":0.182},{"s":"High","t":4,"q":0.164},{"s":"High","t":4.4,"q":0.149},{"s":"High","t":4.9,"q":0.141},{"s":"High","t":5.4,"q":0.14},{"s":"High","t":5.9,"q":0.134},{"s":"High","t":6.7,"q":0.131},{"s":"High","t":7.7,"q":0.124},{"s":"High","t":8.5,"q":0.119},{"s":"High","t":9.5,"q":0.113},{"s":"High","t":10.8,"q":0.108},{"s":"High","t":11.3,"q":0.107},{"s":"High","t":12.1,"q":0.104},{"s":"High","t":13.6,"q":0.102},{"s":"High","t":14.9,"q":0.1},{"s":"High","t":16.2,"q":0.095},{"s":"High","t":17.5,"q":0.092},{"s":"High","t":19.3,"q":0.091},{"s":"High","t":20.8,"q":0.087},{"s":"High","t":22.4,"q":0.082},{"s":"High","t":23.7,"q":0.08},{"s":"High","t":25.2,"q":0.077},{"s":"High","t":27,"q":0.072},{"s":"High","t":28.5,"q":0.072},{"s":"High","t":29.6,"q":0.07},{"s":"High","t":30.8,"q":0.0645},{"s":"High","t":32.1,"q":0.0645},{"s":"High","t":33.2,"q":0.0645},{"s":"High","t":34.7,"q":0.06},{"s":"High","t":36.2,"q":0.057},{"s":"High","t":38.3,"q":0.0556},{"s":"High","t":40.9,"q":0.053},{"s":"High","t":42.4,"q":0.05},{"s":"High","t":44.5,"q":0.048},{"s":"High","t":46.5,"q":0.044},{"s":"High","t":48.6,"q":0.042},{"s":"High","t":50.1,"q":0.0417},{"s":"High","t":51.7,"q":0.04},{"s":"High","t":52.4,"q":0.0365},{"s":"High","t":54,"q":0.0365},
      {"s":"Gradual","t":0,"q":0},{"s":"Gradual","t":0.4,"q":0.012},{"s":"Gradual","t":1,"q":0.021},{"s":"Gradual","t":1.8,"q":0.026},{"s":"Gradual","t":2.6,"q":0.03},{"s":"Gradual","t":3.6,"q":0.032},{"s":"Gradual","t":4.6,"q":0.035},{"s":"Gradual","t":5.4,"q":0.039},{"s":"Gradual","t":6.2,"q":0.041},{"s":"Gradual","t":6.9,"q":0.045},{"s":"Gradual","t":7.7,"q":0.053},{"s":"Gradual","t":8.5,"q":0.059},{"s":"Gradual","t":9.5,"q":0.062},{"s":"Gradual","t":10.5,"q":0.063},{"s":"Gradual","t":11.8,"q":0.0645},{"s":"Gradual","t":12.9,"q":0.066},{"s":"Gradual","t":13.9,"q":0.068},{"s":"Gradual","t":14.9,"q":0.072},{"s":"Gradual","t":16,"q":0.077},{"s":"Gradual","t":17,"q":0.077},{"s":"Gradual","t":17.7,"q":0.0746},{"s":"Gradual","t":18.8,"q":0.074},{"s":"Gradual","t":19.5,"q":0.078},{"s":"Gradual","t":20.6,"q":0.0836},{"s":"Gradual","t":21.3,"q":0.088},{"s":"Gradual","t":22.4,"q":0.0885},{"s":"Gradual","t":23.7,"q":0.09},{"s":"Gradual","t":24.2,"q":0.0948},{"s":"Gradual","t":24.7,"q":0.1127},{"s":"Gradual","t":25.2,"q":0.1306},{"s":"Gradual","t":25.7,"q":0.1396},{"s":"Gradual","t":26.5,"q":0.143},{"s":"Gradual","t":27,"q":0.1407},{"s":"Gradual","t":27.8,"q":0.1306},{"s":"Gradual","t":28.5,"q":0.119},{"s":"Gradual","t":29.3,"q":0.1138},{"s":"Gradual","t":30.1,"q":0.108},{"s":"Gradual","t":31.1,"q":0.097},{"s":"Gradual","t":32.1,"q":0.0813},{"s":"Gradual","t":32.9,"q":0.07},{"s":"Gradual","t":33.7,"q":0.059},{"s":"Gradual","t":34.4,"q":0.05},{"s":"Gradual","t":35.2,"q":0.0455},{"s":"Gradual","t":36.2,"q":0.042},{"s":"Gradual","t":37.3,"q":0.0376},{"s":"Gradual","t":38.3,"q":0.0331},{"s":"Gradual","t":39.3,"q":0.0302},{"s":"Gradual","t":40.9,"q":0.0287},{"s":"Gradual","t":41.9,"q":0.028},{"s":"Gradual","t":42.9,"q":0.0258},{"s":"Gradual","t":44,"q":0.027},{"s":"Gradual","t":45,"q":0.0293},{"s":"Gradual","t":46.5,"q":0.0287},{"s":"Gradual","t":48.6,"q":0.0293},{"s":"Gradual","t":50.1,"q":0.0309},{"s":"Gradual","t":51.2,"q":0.0287},{"s":"Gradual","t":52.4,"q":0.0242},{"s":"Gradual","t":54,"q":0.0208}
    ],
    "braceTrain": [
      {"b":"T1L","i":0,"t":0.4,"q":-0.0396},{"b":"T1L","i":1,"t":0.4,"q":-0.0483},{"b":"T1L","i":2,"t":2.6,"q":-0.0483},{"b":"T1L","i":3,"t":24.2,"q":-0.0483},{"b":"T1L","i":4,"t":27,"q":-0.0483},{"b":"T1L","i":5,"t":27,"q":-0.0557},
      {"b":"T1R","i":0,"t":53.6,"q":-0.0396},{"b":"T1R","i":1,"t":53.6,"q":-0.0483},{"b":"T1R","i":2,"t":51.4,"q":-0.0483},{"b":"T1R","i":3,"t":29.8,"q":-0.0483},{"b":"T1R","i":4,"t":27,"q":-0.0483},{"b":"T1R","i":5,"t":27,"q":-0.0557},
      {"b":"T2L","i":0,"t":0.4,"q":-0.0728},{"b":"T2L","i":1,"t":0.4,"q":-0.0809},{"b":"T2L","i":2,"t":3.4,"q":-0.0809},{"b":"T2L","i":3,"t":52.9,"q":-0.0809},{"b":"T2L","i":4,"t":56.4,"q":-0.0809},{"b":"T2L","i":5,"t":56.4,"q":-0.0883},
      {"b":"T2R","i":0,"t":112.4,"q":-0.0728},{"b":"T2R","i":1,"t":112.4,"q":-0.0809},{"b":"T2R","i":2,"t":109.4,"q":-0.0809},{"b":"T2R","i":3,"t":59.9,"q":-0.0809},{"b":"T2R","i":4,"t":56.4,"q":-0.0809},{"b":"T2R","i":5,"t":56.4,"q":-0.0883}
    ],
    "braceTest": [
      {"b":"L","i":0,"t":0.3,"q":-0.0557},{"b":"L","i":1,"t":0.3,"q":-0.0637},{"b":"L","i":2,"t":2.5,"q":-0.0637},{"b":"L","i":3,"t":24.2,"q":-0.0637},{"b":"L","i":4,"t":27,"q":-0.0637},{"b":"L","i":5,"t":27,"q":-0.0698},
      {"b":"R","i":0,"t":53.7,"q":-0.0557},{"b":"R","i":1,"t":53.7,"q":-0.0637},{"b":"R","i":2,"t":51.5,"q":-0.0637},{"b":"R","i":3,"t":29.8,"q":-0.0637},{"b":"R","i":4,"t":27,"q":-0.0637},{"b":"R","i":5,"t":27,"q":-0.0698}
    ]
  },
  "hconcat": [
    {
      "width": 350, "height": 313,
      "layer": [
        {
          "data": {"name": "rapid"},
          "mark": {"type": "line", "color": "#808080", "strokeWidth": 1.7, "interpolate": "monotone"},
          "encoding": {
            "x": {"field": "t", "type": "quantitative", "scale": {"domain": [0, 54], "nice": false, "zero": false},
              "axis": {"title": "Time (s)", "format": "d", "tickCount": 20, "values": [0,6,12,18,24,30,36,42,48,54]}},
            "y": {"field": "q", "type": "quantitative", "scale": {"domain": [0, 0.21], "nice": false},
              "axis": {"title": "Discharge (m³/s)", "format": ".2f", "tickCount": 20, "values": [0,0.03,0.06,0.09,0.12,0.15,0.18,0.21]}},
            "detail": {"field": "s"}
          }
        },
        {
          "data": {"name": "xminor"},
          "mark": {"type": "rule", "color": "#000000", "strokeWidth": 1.3},
          "encoding": {"x": {"field": "t", "type": "quantitative"}, "y": {"datum": 0}, "y2": {"datum": -0.0027}}
        },
        {
          "data": {"name": "yminor"},
          "mark": {"type": "rule", "color": "#000000", "strokeWidth": 1.3},
          "encoding": {"y": {"field": "q", "type": "quantitative"}, "x": {"datum": 0}, "x2": {"datum": -0.62}}
        },
        {
          "data": {"values": [{}]},
          "mark": {"type": "rect", "fill": "#ffffff", "stroke": "#c8c8c8", "strokeWidth": 2},
          "encoding": {"x": {"datum": 47.3}, "x2": {"datum": 53.5}, "y": {"datum": 0.2087}, "y2": {"datum": 0.1818}}
        },
        {
          "data": {"values": [{}]},
          "mark": {"type": "text", "text": "(a)", "fontSize": 28, "baseline": "middle", "align": "center"},
          "encoding": {"x": {"datum": 50.4}, "y": {"datum": 0.1953}}
        },
        {
          "data": {"values": [{}]},
          "mark": {"type": "text", "text": "15", "fontSize": 30, "align": "right", "baseline": "alphabetic"},
          "encoding": {"x": {"datum": 10.4}, "y": {"datum": 0.218}}
        },
        {
          "data": {"values": [{}]},
          "mark": {"type": "text", "text": "Rapid", "fontSize": 30, "fontStyle": "italic", "align": "left", "baseline": "alphabetic"},
          "encoding": {"x": {"datum": 11.7}, "y": {"datum": 0.218}}
        },
        {
          "data": {"values": [{}]},
          "mark": {"type": "text", "text": "hydrographs", "fontSize": 30, "align": "left", "baseline": "alphabetic"},
          "encoding": {"x": {"datum": 24.2}, "y": {"datum": 0.218}}
        },
        {
          "data": {"name": "braceTrain"},
          "mark": {"type": "line", "color": "#000000", "strokeWidth": 1.5, "interpolate": "basis"},
          "encoding": {
            "x": {"field": "t", "type": "quantitative"},
            "y": {"field": "q", "type": "quantitative"},
            "detail": {"field": "b"},
            "order": {"field": "i", "type": "quantitative"}
          }
        },
        {
          "data": {"values": [{}]},
          "mark": {"type": "text", "text": "Training case:", "fontSize": 26, "align": "right", "baseline": "middle"},
          "encoding": {"x": {"datum": 32.3}, "y": {"datum": -0.0664}}
        },
        {
          "data": {"values": [{}]},
          "mark": {"type": "text", "text": "Toce1", "fontSize": 26, "fontStyle": "italic", "align": "left", "baseline": "middle"},
          "encoding": {"x": {"datum": 33.3}, "y": {"datum": -0.0664}}
        },
        {
          "data": {"values": [{}]},
          "mark": {"type": "text", "text": "Training case:", "fontSize": 26, "align": "right", "baseline": "middle"},
          "encoding": {"x": {"datum": 61.2}, "y": {"datum": -0.0968}}
        },
        {
          "data": {"values": [{}]},
          "mark": {"type": "text", "text": "Toce2", "fontSize": 26, "fontStyle": "italic", "align": "left", "baseline": "middle"},
          "encoding": {"x": {"datum": 62.2}, "y": {"datum": -0.0968}}
        }
      ]
    },
    {
      "width": 350, "height": 313,
      "layer": [
        {
          "data": {"name": "gradual"},
          "mark": {"type": "line", "color": "#808080", "strokeWidth": 1.7, "interpolate": "monotone"},
          "encoding": {
            "x": {"field": "t", "type": "quantitative", "scale": {"domain": [0, 54], "nice": false, "zero": false},
              "axis": {"title": "Time (s)", "format": "d", "tickCount": 20, "values": [0,6,12,18,24,30,36,42,48,54]}},
            "y": {"field": "q", "type": "quantitative", "scale": {"domain": [0, 0.21], "nice": false},
              "axis": {"title": null, "labels": false, "tickCount": 20, "values": [0,0.03,0.06,0.09,0.12,0.15,0.18,0.21]}},
            "detail": {"field": "s"}
          }
        },
        {
          "data": {"name": "xminor"},
          "mark": {"type": "rule", "color": "#000000", "strokeWidth": 1.3},
          "encoding": {"x": {"field": "t", "type": "quantitative"}, "y": {"datum": 0}, "y2": {"datum": -0.0027}}
        },
        {
          "data": {"name": "yminor"},
          "mark": {"type": "rule", "color": "#000000", "strokeWidth": 1.3},
          "encoding": {"y": {"field": "q", "type": "quantitative"}, "x": {"datum": 0}, "x2": {"datum": -0.62}}
        },
        {
          "data": {"values": [{}]},
          "mark": {"type": "rect", "fill": "#ffffff", "stroke": "#c8c8c8", "strokeWidth": 2},
          "encoding": {"x": {"datum": 47.3}, "x2": {"datum": 53.5}, "y": {"datum": 0.2087}, "y2": {"datum": 0.1818}}
        },
        {
          "data": {"values": [{}]},
          "mark": {"type": "text", "text": "(b)", "fontSize": 28, "baseline": "middle", "align": "center"},
          "encoding": {"x": {"datum": 50.4}, "y": {"datum": 0.1953}}
        },
        {
          "data": {"values": [{}]},
          "mark": {"type": "text", "text": "7", "fontSize": 30, "align": "right", "baseline": "alphabetic"},
          "encoding": {"x": {"datum": 7.2}, "y": {"datum": 0.218}}
        },
        {
          "data": {"values": [{}]},
          "mark": {"type": "text", "text": "Gradual", "fontSize": 30, "fontStyle": "italic", "align": "left", "baseline": "alphabetic"},
          "encoding": {"x": {"datum": 8.9}, "y": {"datum": 0.218}}
        },
        {
          "data": {"values": [{}]},
          "mark": {"type": "text", "text": "hydrographs", "fontSize": 30, "align": "left", "baseline": "alphabetic"},
          "encoding": {"x": {"datum": 26.1}, "y": {"datum": 0.218}}
        }
      ]
    },
    {
      "width": 350, "height": 313,
      "layer": [
        {
          "data": {"name": "testing"},
          "mark": {"type": "line", "strokeWidth": 2.5},
          "encoding": {
            "x": {"field": "t", "type": "quantitative", "scale": {"domain": [0, 54], "nice": false, "zero": false},
              "axis": {"title": "Time (s)", "format": "d", "tickCount": 20, "values": [0,6,12,18,24,30,36,42,48,54]}},
            "y": {"field": "q", "type": "quantitative", "scale": {"domain": [0, 0.21], "nice": false},
              "axis": {"title": null, "labels": false, "tickCount": 20, "values": [0,0.03,0.06,0.09,0.12,0.15,0.18,0.21]}},
            "color": {"field": "s", "type": "nominal",
              "scale": {"domain": ["Low", "Medium", "High", "Gradual"], "range": ["#0000ff", "#ff0000", "#00a040", "#000000"]},
              "legend": {"title": null, "orient": "top-right", "offset": 1, "symbolType": "stroke", "symbolSize": 625, "symbolStrokeWidth": 2.5,
                "labelFont": "Liberation Serif", "labelFontSize": 24, "labelFontStyle": "italic", "labelColor": "#000000", "labelOffset": 16, "labelLimit": 0,
                "rowPadding": 2, "padding": 6, "strokeColor": "#c8c8c8", "fillColor": "#ffffff"}}
          }
        },
        {
          "data": {"name": "xminor"},
          "mark": {"type": "rule", "color": "#000000", "strokeWidth": 1.3},
          "encoding": {"x": {"field": "t", "type": "quantitative"}, "y": {"datum": 0}, "y2": {"datum": -0.0027}}
        },
        {
          "data": {"name": "yminor"},
          "mark": {"type": "rule", "color": "#000000", "strokeWidth": 1.3},
          "encoding": {"y": {"field": "q", "type": "quantitative"}, "x": {"datum": 0}, "x2": {"datum": -0.62}}
        },
        {
          "data": {"values": [{}]},
          "mark": {"type": "rect", "fill": "#ffffff", "stroke": "#c8c8c8", "strokeWidth": 2},
          "encoding": {"x": {"datum": 25.9}, "x2": {"datum": 32.2}, "y": {"datum": 0.2087}, "y2": {"datum": 0.1818}}
        },
        {
          "data": {"values": [{}]},
          "mark": {"type": "text", "text": "(c)", "fontSize": 28, "baseline": "middle", "align": "center"},
          "encoding": {"x": {"datum": 29.05}, "y": {"datum": 0.1953}}
        },
        {
          "data": {"values": [{}]},
          "mark": {"type": "text", "text": "Testing hydrographs", "fontSize": 30, "align": "center", "baseline": "alphabetic"},
          "encoding": {"x": {"datum": 27}, "y": {"datum": 0.218}}
        },
        {
          "data": {"name": "braceTest"},
          "mark": {"type": "line", "color": "#000000", "strokeWidth": 1.5, "interpolate": "basis"},
          "encoding": {
            "x": {"field": "t", "type": "quantitative"},
            "y": {"field": "q", "type": "quantitative"},
            "detail": {"field": "b"},
            "order": {"field": "i", "type": "quantitative"}
          }
        },
        {
          "data": {"values": [{}]},
          "mark": {"type": "text", "text": "Testing", "fontSize": 26, "align": "center", "baseline": "middle"},
          "encoding": {"x": {"datum": 27}, "y": {"datum": -0.0819}}
        }
      ]
    }
  ]
}
